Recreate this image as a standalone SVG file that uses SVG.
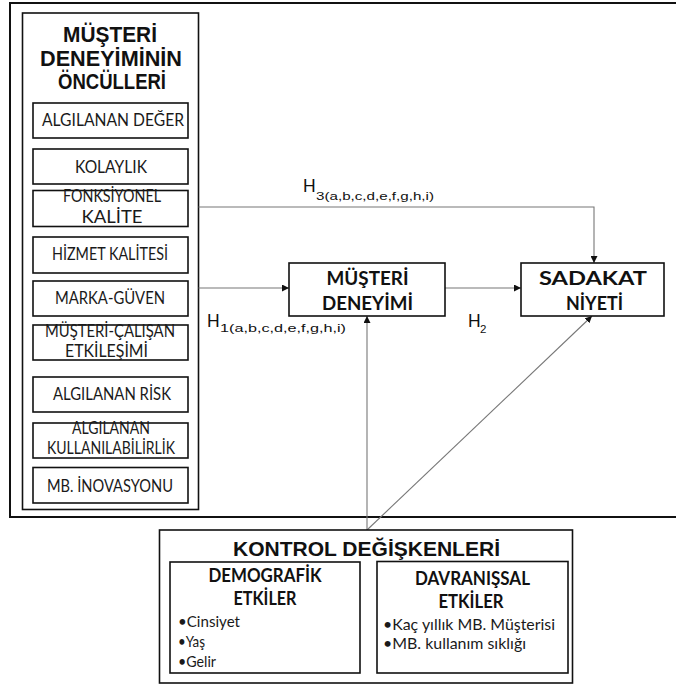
<svg xmlns="http://www.w3.org/2000/svg" width="676" height="685" viewBox="0 0 676 685">
<defs>
<marker id="arr" viewBox="0 0 10 10" refX="10" refY="5" markerWidth="7" markerHeight="7" markerUnits="userSpaceOnUse" orient="auto">
<path d="M0,0 L10,5 L0,10 Z" fill="#111"/>
</marker>
</defs>
<style>
.frame{fill:none;stroke:#111;stroke-width:2}
.box{fill:#fff;stroke:#111;stroke-width:1.6}
.lbl{font-family:Lato,"Open Sans",sans-serif;font-size:16.5px;fill:#1a1a1a;text-anchor:middle}
.bl{font-family:Lato,"Open Sans",sans-serif;font-size:18.5px;font-weight:700;fill:#111;text-anchor:middle}
.blt{font-family:Lato,"Open Sans",sans-serif;font-size:15px;fill:#1a1a1a}
.ttl{font-family:"Liberation Sans",Arial,sans-serif;font-weight:700;fill:#111;text-anchor:middle}
.h{font-family:"Liberation Sans",Arial,sans-serif;fill:#111}
.conn{fill:none;stroke:#777;stroke-width:1.1}
</style>
<rect width="676" height="685" fill="#fff"/>
<rect class="frame" x="10" y="3" width="700" height="514"/>

<g id="onculler">
<rect class="box" x="22.5" y="13" width="176" height="496.5"/>
<text class="ttl" font-size="21.5" x="110" y="42" textLength="94" lengthAdjust="spacingAndGlyphs">MÜŞTERİ</text>
<text class="ttl" font-size="21.5" x="111" y="65.5" textLength="142" lengthAdjust="spacingAndGlyphs">DENEYİMİNİN</text>
<text class="ttl" font-size="21.5" x="112" y="88.5" textLength="108" lengthAdjust="spacingAndGlyphs">ÖNCÜLLERİ</text>
</g>

<g id="algilanan-deger">
<rect class="box" x="33" y="103" width="155" height="35"/>
<text class="lbl" x="113" y="125.5" textLength="142" lengthAdjust="spacingAndGlyphs">ALGILANAN DEĞER</text>
</g>
<g id="kolaylik">
<rect class="box" x="33" y="149" width="155" height="35"/>
<text class="lbl" x="111" y="172.5" textLength="72" lengthAdjust="spacingAndGlyphs">KOLAYLIK</text>
</g>
<g id="fonksiyonel-kalite">
<rect class="box" x="33" y="190.5" width="155" height="36"/>
<text class="lbl" x="112" y="202" textLength="98" lengthAdjust="spacingAndGlyphs">FONKSİYONEL</text>
<text class="lbl" x="112" y="222.5" textLength="61" lengthAdjust="spacingAndGlyphs">KALİTE</text>
</g>
<g id="hizmet-kalitesi">
<rect class="box" x="33" y="237" width="155" height="36"/>
<text class="lbl" x="110" y="260" textLength="116" lengthAdjust="spacingAndGlyphs">HİZMET KALİTESİ</text>
</g>
<g id="marka-guven">
<rect class="box" x="33" y="281" width="155" height="35"/>
<text class="lbl" x="110" y="304" textLength="110" lengthAdjust="spacingAndGlyphs">MARKA-GÜVEN</text>
</g>
<g id="musteri-calisan">
<rect class="box" x="33" y="325" width="155" height="35"/>
<text class="lbl" x="110" y="336.5" textLength="130" lengthAdjust="spacingAndGlyphs">MÜŞTERİ-ÇALIŞAN</text>
<text class="lbl" x="106.5" y="356.5" textLength="83" lengthAdjust="spacingAndGlyphs">ETKİLEŞİMİ</text>
</g>
<g id="algilanan-risk">
<rect class="box" x="33" y="377" width="155" height="35"/>
<text class="lbl" x="112" y="400" textLength="118" lengthAdjust="spacingAndGlyphs">ALGILANAN RİSK</text>
</g>
<g id="kullanilabilirlik">
<rect class="box" x="33" y="423" width="155" height="35"/>
<text class="lbl" x="111" y="433.5" textLength="78" lengthAdjust="spacingAndGlyphs">ALGILANAN</text>
<text class="lbl" x="111" y="453.5" textLength="128" lengthAdjust="spacingAndGlyphs">KULLANILABİLİRLİK</text>
</g>
<g id="mb-inovasyonu">
<rect class="box" x="33" y="467.5" width="155" height="35.5"/>
<text class="lbl" x="110" y="491.5" textLength="126" lengthAdjust="spacingAndGlyphs">MB. İNOVASYONU</text>
</g>

<g id="connectors">
<path class="conn" d="M198.5,207 H594 V263" marker-end="url(#arr)"/>
<path class="conn" d="M198.5,288 H289" marker-end="url(#arr)"/>
<path class="conn" d="M445,288 H521" marker-end="url(#arr)"/>
<path class="conn" d="M367,530 V316" marker-end="url(#arr)"/>
<path class="conn" d="M367,530 L592,316" marker-end="url(#arr)"/>
<text class="h" x="303" y="192" font-size="17.5">H</text>
<text class="h" x="316" y="200" font-size="11.5" textLength="118" lengthAdjust="spacingAndGlyphs">3(a,b,c,d,e,f,g,h,i)</text>
<text class="h" x="207" y="327" font-size="17.5">H</text>
<text class="h" x="220" y="332" font-size="11.5" textLength="126" lengthAdjust="spacingAndGlyphs">1(a,b,c,d,e,f,g,h,i)</text>
<text class="h" x="468" y="327" font-size="17.5">H</text>
<text class="h" x="480" y="333" font-size="11.5">2</text>
</g>

<g id="musteri-deneyimi">
<rect class="box" x="289" y="263" width="156" height="53"/>
<text class="bl" x="367.5" y="285" textLength="82" lengthAdjust="spacingAndGlyphs">MÜŞTERİ</text>
<text class="bl" x="367.5" y="310" textLength="91" lengthAdjust="spacingAndGlyphs">DENEYİMİ</text>
</g>

<g id="sadakat-niyeti">
<rect class="box" x="521" y="263" width="143" height="53"/>
<text class="bl" x="593" y="285" textLength="108" lengthAdjust="spacingAndGlyphs">SADAKAT</text>
<text class="bl" x="594.5" y="310" textLength="57" lengthAdjust="spacingAndGlyphs">NİYETİ</text>
</g>

<g id="kontrol">
<rect class="box" x="159.5" y="530" width="413" height="153"/>
<text class="ttl" font-size="20.5" x="366.5" y="555.5" textLength="267" lengthAdjust="spacingAndGlyphs">KONTROL DEĞİŞKENLERİ</text>
</g>
<g id="demografik">
<rect class="box" x="170" y="562" width="190" height="111"/>
<text class="bl" x="265" y="582" textLength="113" lengthAdjust="spacingAndGlyphs">DEMOGRAFİK</text>
<text class="bl" x="265" y="605" textLength="63" lengthAdjust="spacingAndGlyphs">ETKİLER</text>
<text class="blt" x="178" y="627" textLength="62" lengthAdjust="spacingAndGlyphs">•Cinsiyet</text>
<text class="blt" x="178" y="647" textLength="27" lengthAdjust="spacingAndGlyphs">•Yaş</text>
<text class="blt" x="178" y="666.5" textLength="38" lengthAdjust="spacingAndGlyphs">•Gelir</text>
</g>
<g id="davranissal">
<rect class="box" x="377" y="561.5" width="191" height="111.5"/>
<text class="bl" x="472.5" y="585" textLength="115" lengthAdjust="spacingAndGlyphs">DAVRANIŞSAL</text>
<text class="bl" x="471" y="608" textLength="65" lengthAdjust="spacingAndGlyphs">ETKİLER</text>
<text class="blt" x="383" y="629.5" textLength="172" lengthAdjust="spacingAndGlyphs">•Kaç yıllık MB. Müşterisi</text>
<text class="blt" x="383" y="648.5" textLength="143" lengthAdjust="spacingAndGlyphs">•MB. kullanım sıklığı</text>
</g>
</svg>
